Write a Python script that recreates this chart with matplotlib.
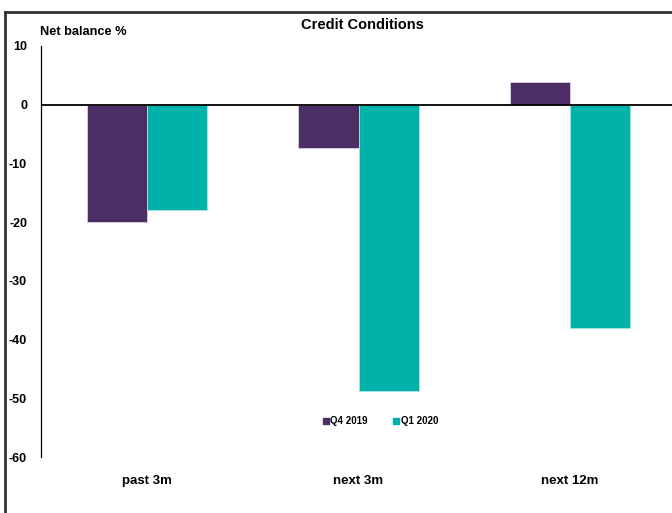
import matplotlib
matplotlib.use("Agg")
import matplotlib.pyplot as plt
import numpy as np
from matplotlib.lines import Line2D

categories = ["past 3m", "next 3m", "next 12m"]
q4_2019 = [-20, -7.3, 3.8]
q1_2020 = [-18, -48.7, -38]
series_names = ["Q4 2019", "Q1 2020"]
yticks = [10, 0, -10, -20, -30, -40, -50, -60]

plt.rcParams['font.family'] = ['Liberation Sans Narrow', 'Liberation Sans', 'DejaVu Sans']

W, H = 672, 513
fig = plt.figure(figsize=(W/100, H/100), dpi=100)
ax = fig.add_axes([41/W, (H-457)/H, 635/W, 411/H])

purple = "#4B2E66"
teal = "#00B2A9"
x = np.arange(len(categories))
bw = 0.284
ax.bar(x - bw/2, q4_2019, bw, color=purple, edgecolor="#d8d0e0", linewidth=0.6, label=series_names[0], zorder=2)
ax.bar(x + bw/2, q1_2020, bw, color=teal, edgecolor="#a8e4e0", linewidth=0.6, label=series_names[1], zorder=2)
ax.axhline(0, color="black", linewidth=1.3, zorder=3)

ax.set_xlim(-0.5, 2.5)
ax.set_ylim(-60, 10)
ax.set_yticks(yticks)
ax.set_yticklabels([str(t) for t in yticks], fontsize=9, fontweight='bold')
ax.set_xticks(x)
ax.set_xticklabels(categories, fontsize=9.5, fontweight='bold')
ax.tick_params(axis='both', length=0)
ax.tick_params(axis='x', pad=13)
ax.tick_params(axis='y', pad=10)
for s in ["top", "right", "bottom"]:
    ax.spines[s].set_visible(False)
ax.spines["left"].set_linewidth(0.9)
ax.spines["left"].set_color("black")

fig.text(362/W, 1-25/H, "Credit Conditions", ha="center", va="center", fontsize=10.5, fontweight='bold')
fig.text(40/W, 1-32/H, "Net balance %", ha="left", va="center", fontsize=9.2, fontweight='bold')

handles = [Line2D([], [], marker='s', linestyle='none', color=purple, markersize=5),
           Line2D([], [], marker='s', linestyle='none', color=teal, markersize=5)]
fig.legend(handles, series_names, loc="center", bbox_to_anchor=(380/W, 1-421/H), ncol=2,
           frameon=False, prop={'size': 7, 'weight': 'bold'}, handletextpad=0.1, columnspacing=2.5,
           handlelength=0.8)

# partial frame (top and left)
fig.add_artist(Line2D([5/W, 1.0], [1-12/H, 1-12/H], transform=fig.transFigure, color="#333333", linewidth=2))
fig.add_artist(Line2D([5/W, 5/W], [0, 1-12/H], transform=fig.transFigure, color="#333333", linewidth=2))

fig.savefig("out.png", dpi=100)
